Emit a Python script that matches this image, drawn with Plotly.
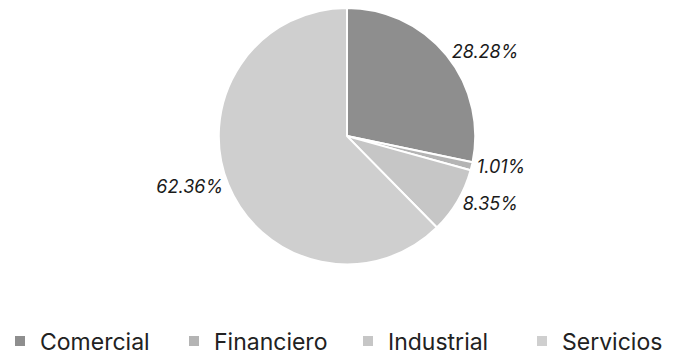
import plotly.graph_objects as go

# Share of each sector
sectors = ["Comercial", "Financiero", "Industrial", "Servicios"]
shares = [28.28, 1.01, 8.35, 62.36]
slice_colors = ["#8e8e8e", "#b4b4b4", "#c6c6c6", "#cfcfcf"]

fig = go.Figure(
    go.Pie(
        labels=sectors,
        values=shares,
        sort=False,
        direction="clockwise",
        rotation=0,
        marker=dict(colors=slice_colors, line=dict(color="white", width=2)),
        texttemplate="%{value:.2f}%",
        textposition="outside",
        textfont=dict(family="Inter, 'DejaVu Sans', sans-serif", size=18, color="#1a1a1a", style="italic"),
        domain=dict(x=[0.2, 0.8], y=[0.2617, 0.978]),
        hoverinfo="skip",
        automargin=False,
    )
)

fig.update_layout(
    width=694,
    height=363,
    margin=dict(l=0, r=0, t=0, b=0),
    paper_bgcolor="white",
    plot_bgcolor="white",
    showlegend=True,
    legend=dict(
        orientation="h",
        x=0.012,
        xanchor="left",
        y=0.047,
        yanchor="middle",
        font=dict(family="Inter, 'DejaVu Sans', sans-serif", size=23, color="#222222"),
        entrywidth=129,
        entrywidthmode="pixels",
        itemsizing="constant",
    ),
)

fig.write_html("out.html")
